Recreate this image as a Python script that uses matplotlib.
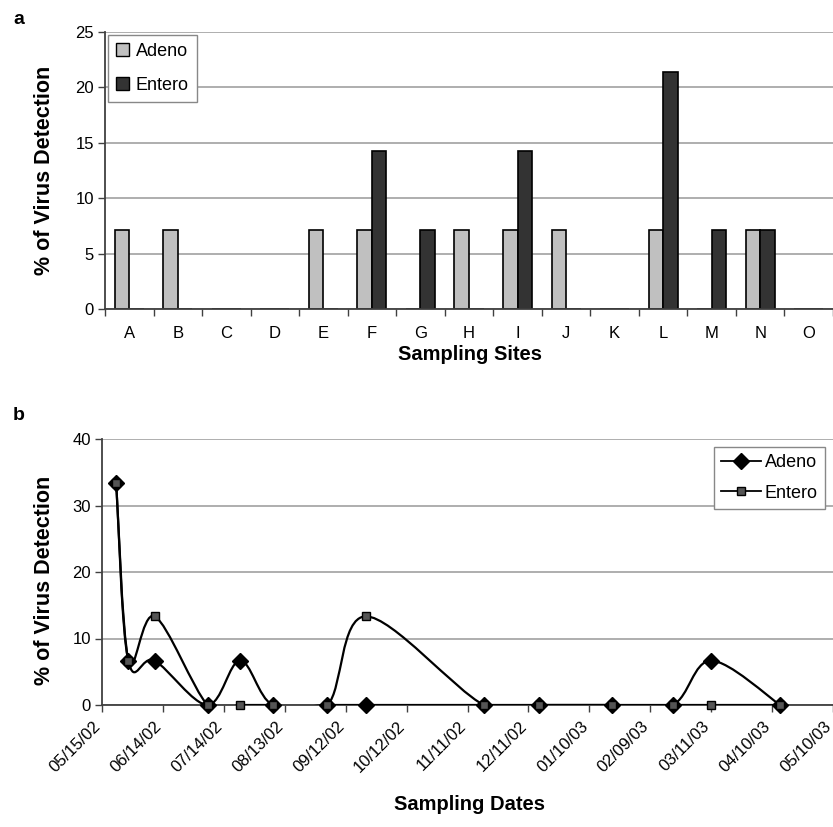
import numpy as np
import matplotlib.pyplot as plt
import matplotlib.dates as mdates
import matplotlib.transforms as mtransforms
from matplotlib.path import Path
from matplotlib.patches import PathPatch, Patch
from matplotlib.lines import Line2D
from datetime import date, timedelta

plt.rcParams['font.family'] = ['Liberation Sans', 'DejaVu Sans']

# panel a: detection by sampling site
sites = ['A', 'B', 'C', 'D', 'E', 'F', 'G', 'H', 'I', 'J', 'K', 'L', 'M', 'N', 'O']
adeno_site = [7.14, 7.14, 0, 0, 7.14, 7.14, 0, 7.14, 7.14, 7.14, 0, 7.14, 0, 7.14, 0]
entero_site = [0, 0, 0, 0, 0, 14.29, 7.14, 0, 14.29, 0, 0, 21.43, 7.14, 7.14, 0]

# panel b: detection by sampling date
sample_dates = ['2002-05-22', '2002-05-28', '2002-06-10', '2002-07-06', '2002-07-22',
                '2002-08-07', '2002-09-03', '2002-09-22', '2002-11-19', '2002-12-16',
                '2003-01-21', '2003-02-20', '2003-03-11', '2003-04-14']
adeno_date = [33.33, 6.67, 6.67, 0, 6.67, 0, 0, 0, 0, 0, 0, 0, 6.67, 0]
entero_date = [33.33, 6.67, 13.33, 0, 0, 0, 0, 13.33, 0, 0, 0, 0, 0, 0]

GRID = '#a8a8a8'
AXC = '#404040'


def smooth_path(xs, ys):
    # Excel-style smoothed line: Catmull-Rom segments as cubic Beziers
    pts = np.column_stack([xs, ys])
    ext = np.vstack([pts[0], pts, pts[-1]])
    verts = [pts[0]]
    codes = [Path.MOVETO]
    for i in range(len(pts) - 1):
        p0, p1, p2, p3 = ext[i], ext[i + 1], ext[i + 2], ext[i + 3]
        verts += [p1 + (p2 - p0) / 6, p2 - (p3 - p1) / 6, p2]
        codes += [Path.CURVE4] * 3
    return Path(verts, codes)


def style_axes(ax):
    ax.set_facecolor('white')
    for s in ['top', 'right']:
        ax.spines[s].set_visible(False)
    for s in ['left', 'bottom']:
        ax.spines[s].set_color(AXC)
        ax.spines[s].set_linewidth(1.3)
    ax.yaxis.grid(True, color=GRID, lw=1.3)
    ax.set_axisbelow(True)
    ax.tick_params(axis='y', length=5, width=1, color=AXC, labelsize=12, pad=3)


fig = plt.figure(figsize=(8.33, 8.27), dpi=100)

# ---- panel a ----
ax1 = fig.add_axes([105 / 833, 1 - 309 / 827, 728 / 833, 277 / 827])
style_axes(ax1)
x = np.arange(len(sites))
w = 0.3
ax1.bar(x - w / 2, adeno_site, width=w, color='#c0c0c0', edgecolor='black', lw=1.2, label='Adeno')
ax1.bar(x + w / 2, entero_site, width=w, color='#333333', edgecolor='black', lw=1.2, label='Entero')
ax1.set_xlim(-0.5, len(sites) - 0.5)
ax1.set_ylim(0, 25)
ax1.set_yticks(range(0, 26, 5))
ax1.set_xticks(x)
ax1.set_xticklabels(sites)
ax1.set_xticks(np.arange(-0.5, len(sites), 1), minor=True)
ax1.tick_params(axis='x', which='major', length=0, labelsize=12, pad=12)
ax1.tick_params(axis='x', which='minor', length=5, width=1, color=AXC)
ax1.legend(handles=[Patch(facecolor='#c0c0c0', edgecolor='black', label='Adeno'),
                    Patch(facecolor='#333333', edgecolor='black', label='Entero')],
           loc='upper left', bbox_to_anchor=(0.004, 0.99), fontsize=13, frameon=True,
           fancybox=False, edgecolor='#888888', framealpha=1, borderaxespad=0,
           handlelength=0.7, handleheight=0.7, handletextpad=0.4, borderpad=0.45,
           labelspacing=0.95)

fig.text(470 / 833, 1 - 355 / 827, 'Sampling Sites', ha='center', va='center',
         fontsize=14.5, fontweight='bold')
fig.text(45 / 833, 1 - 170 / 827, '% of Virus Detection', ha='center', va='center',
         rotation=90, fontsize=15.5, fontweight='bold')
fig.text(13 / 833, 1 - 19 / 827, 'a', ha='left', va='center', fontsize=14, fontweight='bold')

# ---- panel b ----
ax2 = fig.add_axes([102 / 833, 1 - 705 / 827, 731 / 833, 266 / 827])
style_axes(ax2)
d = mdates.date2num([date.fromisoformat(s) for s in sample_dates])
start = date(2002, 5, 15)
tick_dates = [start + timedelta(days=30 * k) for k in range(13)]
ax2.set_xlim(mdates.date2num(tick_dates[0]), mdates.date2num(tick_dates[-1]))
ax2.set_ylim(0, 40)
ax2.set_yticks(range(0, 41, 10))

ax2.add_patch(PathPatch(smooth_path(d, adeno_date), fill=False, edgecolor='black', lw=1.6, zorder=3))
ax2.add_patch(PathPatch(smooth_path(d, entero_date), fill=False, edgecolor='black', lw=1.6, zorder=3))
ax2.plot(d, adeno_date, ls='none', marker='D', ms=8, mfc='black', mec='black', zorder=4, clip_on=False)
ax2.plot(d, entero_date, ls='none', marker='s', ms=5.5, mfc='#555555', mec='black', mew=1, zorder=5, clip_on=False)

ax2.set_xticks(mdates.date2num(tick_dates))
ax2.set_xticklabels([t.strftime('%m/%d/%y') for t in tick_dates], rotation=45, ha='right',
                    rotation_mode='anchor')
ax2.tick_params(axis='x', length=5, width=1, color=AXC, labelsize=12, pad=5)
shift = mtransforms.ScaledTranslation(-9 / 100, 0, fig.dpi_scale_trans)
for lab in ax2.get_xticklabels():
    lab.set_transform(lab.get_transform() + shift)

ax2.legend(handles=[Line2D([], [], color='black', lw=1.3, marker='D', ms=8, mfc='black', label='Adeno'),
                    Line2D([], [], color='black', lw=1.3, marker='s', ms=5.5, mfc='#555555',
                           mec='black', label='Entero')],
           loc='upper right', bbox_to_anchor=(0.989, 0.97), fontsize=13, frameon=True,
           fancybox=False, edgecolor='#888888', framealpha=1, borderaxespad=0,
           handlelength=2.2, handletextpad=0.2, borderpad=0.4, labelspacing=0.75)

fig.text(470 / 833, 1 - 805 / 827, 'Sampling Dates', ha='center', va='center',
         fontsize=14.5, fontweight='bold')
fig.text(45 / 833, 1 - 580 / 827, '% of Virus Detection', ha='center', va='center',
         rotation=90, fontsize=15.5, fontweight='bold')
fig.text(13 / 833, 1 - 415 / 827, 'b', ha='left', va='center', fontsize=14, fontweight='bold')

fig.savefig('out.png', dpi=100, facecolor='white')
